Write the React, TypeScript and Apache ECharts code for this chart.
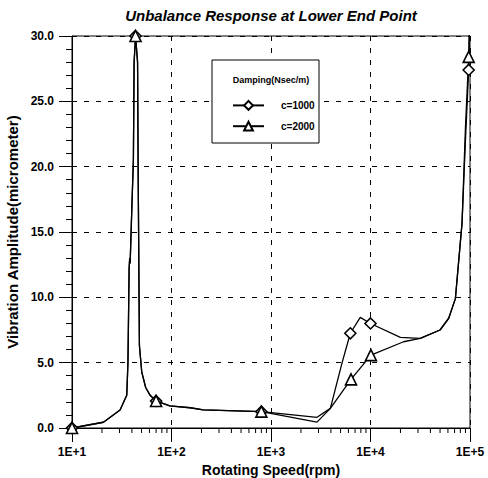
import React, { useEffect, useRef } from "react";
import * as echarts from "echarts";

const titleText = "Unbalance Response at Lower End Point";
const xName = "Rotating Speed(rpm)";
const yName = "Vibration Amplitude(micrometer)";
const legendTitle = "Damping(Nsec/m)";
const seriesNames = ["c=1000", "c=2000"];

// c=1000 (diamond)
const s1Speed = [10, 20.7, 30.4, 35.5, 36.5, 37.2, 37.5, 38.0, 38.4, 40.0, 41.4, 42.1, 43.5, 45.6, 46.2, 47.2, 47.6, 50.2, 55, 61, 70, 96, 154, 209, 800, 2900, 3950, 5160, 6270, 7890, 10000, 19950, 31600, 50000, 61100, 71300, 83200, 90000, 97000, 100000];
const s1Amp = [0, 0.44, 1.38, 2.5, 5.0, 10.0, 12.2, 13.0, 12.6, 17.0, 20.5, 28.0, 30.0, 28.0, 20.0, 10.0, 6.3, 4.3, 3.1, 2.5, 2.07, 1.7, 1.55, 1.38, 1.25, 0.45, 1.5, 4.95, 7.25, 8.47, 8.0, 6.94, 6.86, 7.5, 8.4, 9.9, 15.7, 22.0, 27.4, 32.0];
const s1Markers = [10, 43.5, 70, 800, 6270, 10000, 97000];

// c=2000 (triangle)
const s2Speed = [10, 20.7, 30.4, 35.5, 36.5, 37.2, 37.5, 38.0, 38.4, 40.0, 41.4, 42.1, 43.5, 45.6, 46.2, 47.2, 47.6, 50.2, 55, 61, 70, 96, 154, 209, 800, 2900, 3950, 6370, 10100, 21500, 31600, 50000, 61100, 71300, 83200, 90000, 97000, 100000];
const s2Amp = [0, 0.44, 1.38, 2.5, 5.0, 10.0, 12.2, 13.0, 12.6, 17.0, 20.5, 28.0, 30.0, 28.0, 20.0, 10.0, 6.3, 4.3, 3.1, 2.5, 2.07, 1.7, 1.55, 1.38, 1.25, 0.82, 1.5, 3.72, 5.58, 6.6, 6.86, 7.5, 8.4, 9.9, 15.7, 23.0, 28.4, 33.0];
const s2Markers = [10, 43.5, 70, 800, 6370, 10100, 97000];

const xMinorTicks = [
  20, 30, 40, 50, 60, 70, 80, 90,
  200, 300, 400, 500, 600, 700, 800, 900,
  2000, 3000, 4000, 5000, 6000, 7000, 8000, 9000,
  20000, 30000, 40000, 50000, 60000, 70000, 80000, 90000,
];

const FONT = '"Liberation Sans", Arial, sans-serif';

function buildData(speed: number[], amp: number[], markers: number[]) {
  return speed.map((x, i) => {
    const item: any = { value: [x, amp[i]] };
    if (!markers.includes(x)) item.symbol = "none";
    return item;
  });
}

export default function App() {
  const ref = useRef<HTMLDivElement>(null);
  useEffect(() => {
    if (!ref.current) return;
    const chart = echarts.init(ref.current, undefined, { renderer: "svg" });
    const dashed = { type: [5, 7] as any, color: "#000", width: 1 };
    chart.setOption({
      animation: false,
      backgroundColor: "#fff",
      title: {
        text: titleText,
        left: 266,
        textAlign: "center",
        top: 3,
        textStyle: { fontFamily: FONT, fontSize: 15, fontWeight: "bold", fontStyle: "italic", color: "#000" },
      },
      grid: {
        left: 72,
        top: 36,
        width: 398,
        height: 392,
        outerBoundsMode: "none",
        containLabel: false,
        show: true,
        borderColor: "#000",
        borderWidth: 1,
        backgroundColor: "transparent",
      },
      xAxis: {
        type: "log",
        logBase: 10,
        min: 10,
        max: 100000,
        name: xName,
        nameLocation: "middle",
        nameGap: 33,
        nameTextStyle: { fontFamily: FONT, fontSize: 14, fontWeight: "bold", color: "#000" },
        axisLine: { show: true, lineStyle: { color: "#000", width: 1 } },
        axisTick: { show: true, length: 14, lineStyle: { color: "#000" } },
        axisLabel: {
          color: "#000",
          fontFamily: FONT,
          fontSize: 12,
          fontWeight: "bold",
          margin: 18,
          formatter: (v: number) => "1E+" + Math.round(Math.log10(v)),
        },
        splitLine: { show: true, lineStyle: dashed },
      },
      yAxis: {
        type: "value",
        min: 0,
        max: 30,
        interval: 5,
        name: yName,
        nameLocation: "middle",
        nameGap: 46,
        nameTextStyle: { fontFamily: FONT, fontSize: 15, fontWeight: "bold", color: "#000" },
        axisLine: { show: true, lineStyle: { color: "#000", width: 1 } },
        axisTick: { show: true, length: 13, lineStyle: { color: "#000" } },
        minorTick: { show: true, splitNumber: 5, length: 6, lineStyle: { color: "#000" } },
        axisLabel: {
          color: "#000",
          fontFamily: FONT,
          fontSize: 12,
          fontWeight: "bold",
          margin: 18,
          formatter: (v: number) => v.toFixed(1),
        },
        splitLine: { show: true, lineStyle: dashed },
      },
      legend: {
        data: seriesNames,
        orient: "vertical",
        left: 232,
        top: 100,
        padding: 0,
        itemWidth: 31,
        itemHeight: 11,
        itemGap: 10,
        z: 10,
        selectedMode: false,
        textStyle: { fontFamily: FONT, fontSize: 10, fontWeight: "bold", color: "#000", padding: [0, 0, 0, 12] },
      },
      graphic: [
        {
          type: "rect",
          z: 5,
          shape: { x: 212, y: 60, width: 107, height: 83 },
          style: { fill: "#fff", stroke: "#000", lineWidth: 1 },
        },
        {
          type: "text",
          z: 11,
          x: 271,
          y: 80,
          style: {
            text: legendTitle,
            align: "center",
            verticalAlign: "middle",
            font: `bold 9px ${FONT}`,
            fill: "#000",
          },
        },
      ],
      series: [
        {
          name: seriesNames[0],
          type: "line",
          data: buildData(s1Speed, s1Amp, s1Markers),
          symbol: "diamond",
          symbolSize: 11,
          clip: true,
          lineStyle: { color: "#000", width: 1.3 },
          itemStyle: { color: "#fff", borderColor: "#000", borderWidth: 1.6 },
          emphasis: { disabled: true },
          z: 3,
        },
        {
          name: seriesNames[1],
          type: "line",
          data: buildData(s2Speed, s2Amp, s2Markers),
          symbol: "triangle",
          symbolSize: 11,
          clip: true,
          lineStyle: { color: "#000", width: 1.3 },
          itemStyle: { color: "#fff", borderColor: "#000", borderWidth: 1.6 },
          emphasis: { disabled: true },
          z: 3,
        },
        {
          type: "custom",
          silent: true,
          clip: false,
          data: xMinorTicks.map((v) => [v, 0]),
          encode: { x: 0, y: 1 },
          renderItem: (_params: any, api: any) => {
            const p = api.coord([api.value(0), api.value(1)]);
            return {
              type: "line",
              shape: { x1: p[0], y1: p[1], x2: p[0], y2: p[1] + 5 },
              style: { stroke: "#000", lineWidth: 1 },
            };
          },
          z: 4,
        },
      ],
    });
    return () => chart.dispose();
  }, []);
  return <div ref={ref} style={{ position: "fixed", left: 0, top: 0, width: 488, height: 478 }} />;
}
